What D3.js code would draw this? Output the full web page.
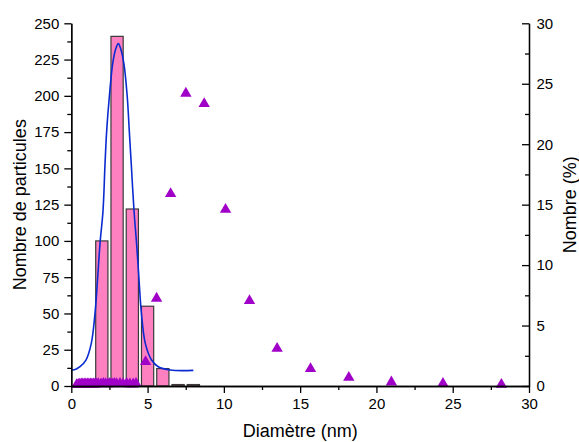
<!DOCTYPE html>
<html>
<head>
<meta charset="utf-8">
<script src="https://cdn.jsdelivr.net/npm/d3@7"></script>
<style>
  html, body { margin: 0; padding: 0; background: #fff; }
  svg { display: block; font-family: "Liberation Sans", Arial, sans-serif; }
</style>
</head>
<body>
<svg id="chart" width="579" height="442"></svg>
<script>
// ---- Data ----
const barCenters = [2, 3, 4, 5, 6, 7, 8];
const barCounts = [100, 241, 122, 55, 12, 1, 1];

const fitX = [0, 0.3, 0.57, 0.96, 1.31, 1.57, 1.73, 1.88, 2.08, 2.21, 2.32, 2.49, 2.71, 2.9, 3.08, 3.25, 3.45, 3.67, 3.80, 3.93, 4.11, 4.28, 4.43, 4.58, 4.85, 5.26, 5.7, 6.5, 8.0];
const fitY = [11, 11.6, 13.3, 17.9, 29.4, 52, 75, 98, 121, 153, 176, 199, 222, 232, 236, 232, 222, 199, 176, 153, 121, 98, 75, 52, 29.4, 17.9, 13.3, 11, 10.8];

const pctX = [0.35, 0.45, 0.55, 0.65, 0.75, 0.85, 0.95, 1.05, 1.15, 1.25, 1.35, 1.45, 1.55, 1.65, 1.77, 1.95, 2.1, 2.25, 2.4, 2.53, 2.68, 2.82, 2.97, 3.19, 3.4, 3.63, 3.84, 4.05, 4.24,
              4.87, 5.59, 6.51, 7.51, 8.71, 10.11, 11.68, 13.49, 15.68, 18.19, 20.98, 24.36, 28.19];
const pctY = [0.1, 0.12, 0.14, 0.15, 0.15, 0.16, 0.16, 0.15, 0.16, 0.16, 0.15, 0.16, 0.15, 0.16, 0.18, 0.16, 0.2, 0.18, 0.17, 0.2, 0.16, 0.2, 0.18, 0.2, 0.16, 0.2, 0.17, 0.15, 0.2,
              2.0, 7.25, 15.9, 24.2, 23.35, 14.6, 7.05, 3.1, 1.42, 0.7, 0.32, 0.2, 0.12];

const xTicks = [0, 5, 10, 15, 20, 25, 30];
const xMinor = [2.5, 7.5, 12.5, 17.5, 22.5, 27.5];
const yLTicks = [0, 25, 50, 75, 100, 125, 150, 175, 200, 225, 250];
const yLMinor = [12.5, 37.5, 62.5, 87.5, 112.5, 137.5, 162.5, 187.5, 212.5, 237.5];
const yRTicks = [0, 5, 10, 15, 20, 25, 30];
const yRMinor = [2.5, 7.5, 12.5, 17.5, 22.5, 27.5];

const xTitle = "Diamètre (nm)";
const yLTitle = "Nombre de particules";
const yRTitle = "Nombre (%)";

// ---- Layout ----
const svg = d3.select("#chart");
const L = 71.3, R = 529, T = 23.3, B = 386;
const x = d3.scaleLinear().domain([0, 30]).range([L, R]);
const yL = d3.scaleLinear().domain([0, 250]).range([B, T]);
const yR = d3.scaleLinear().domain([0, 30]).range([B, T]);
const barW = 0.8;

// Bars
svg.append("g").selectAll("rect")
  .data(barCenters.map((c, i) => ({c, v: barCounts[i]})))
  .join("rect")
  .attr("x", d => x(d.c - barW / 2))
  .attr("width", d => x(d.c + barW / 2) - x(d.c - barW / 2))
  .attr("y", d => yL(d.v))
  .attr("height", d => yL(0) - yL(d.v))
  .attr("fill", "#ff80c0")
  .attr("stroke", "#3a3a3a")
  .attr("stroke-width", 1.2);

// Fit curve
const line = d3.line().x(d => x(d[0])).y(d => yL(d[1])).curve(d3.curveCatmullRom.alpha(0.5));
svg.append("path")
  .datum(fitX.map((v, i) => [v, fitY[i]]))
  .attr("d", line)
  .attr("fill", "none")
  .attr("stroke", "#0a2bd0")
  .attr("stroke-width", 1.6);

// Triangles
const tri = d3.symbol().type(d3.symbolTriangle).size(56);
svg.append("g").selectAll("path")
  .data(pctX.map((v, i) => [v, pctY[i]]))
  .join("path")
  .attr("transform", d => `translate(${x(d[0])},${yR(d[1])})`)
  .attr("d", tri)
  .attr("fill", "#a000c8");

// Axes
const fs = 15;
function styleAxis(g) {
  g.selectAll("path.domain").attr("stroke", "#000").attr("stroke-width", 1.3);
  g.selectAll(".tick line").attr("stroke", "#000").attr("stroke-width", 1.3);
  g.selectAll("text").attr("font-size", fs).attr("fill", "#000").attr("font-family", "Liberation Sans, Arial, sans-serif");
}
// bottom
svg.append("g").attr("transform", `translate(0,${B})`)
  .call(d3.axisBottom(x).tickValues(xMinor).tickSize(4).tickSizeOuter(0).tickFormat(""))
  .call(styleAxis);
svg.append("g").attr("transform", `translate(0,${B})`)
  .call(d3.axisBottom(x).tickValues(xTicks).tickSize(7).tickSizeOuter(0).tickPadding(5).tickFormat(d3.format("d")))
  .call(styleAxis);
// left
svg.append("g").attr("transform", `translate(${L},0)`)
  .call(d3.axisLeft(yL).tickValues(yLMinor).tickSize(4).tickSizeOuter(0).tickFormat(""))
  .call(styleAxis);
svg.append("g").attr("transform", `translate(${L},0)`)
  .call(d3.axisLeft(yL).tickValues(yLTicks).tickSize(7).tickSizeOuter(0).tickPadding(5).tickFormat(d3.format("d")))
  .call(styleAxis);
// right (ticks inward)
svg.append("g").attr("transform", `translate(${R},0)`)
  .call(d3.axisRight(yR).tickValues(yRMinor).tickSize(-4).tickSizeOuter(0).tickFormat(""))
  .call(styleAxis);
svg.append("g").attr("transform", `translate(${R},0)`)
  .call(d3.axisRight(yR).tickValues(yRTicks).tickSize(-7).tickSizeOuter(0).tickPadding(7.5).tickFormat(d3.format("d")))
  .call(styleAxis);

// Titles
const tfs = 18;
svg.append("text").attr("x", (L + R) / 2).attr("y", 437).attr("text-anchor", "middle")
  .attr("font-size", tfs).text(xTitle);
svg.append("text").attr("transform", `translate(26,${(T + B) / 2}) rotate(-90)`).attr("text-anchor", "middle")
  .attr("font-size", tfs).text(yLTitle);
svg.append("text").attr("transform", `translate(576,${(T + B) / 2}) rotate(-90)`).attr("text-anchor", "middle")
  .attr("font-size", tfs).text(yRTitle);
</script>
</body>
</html>
